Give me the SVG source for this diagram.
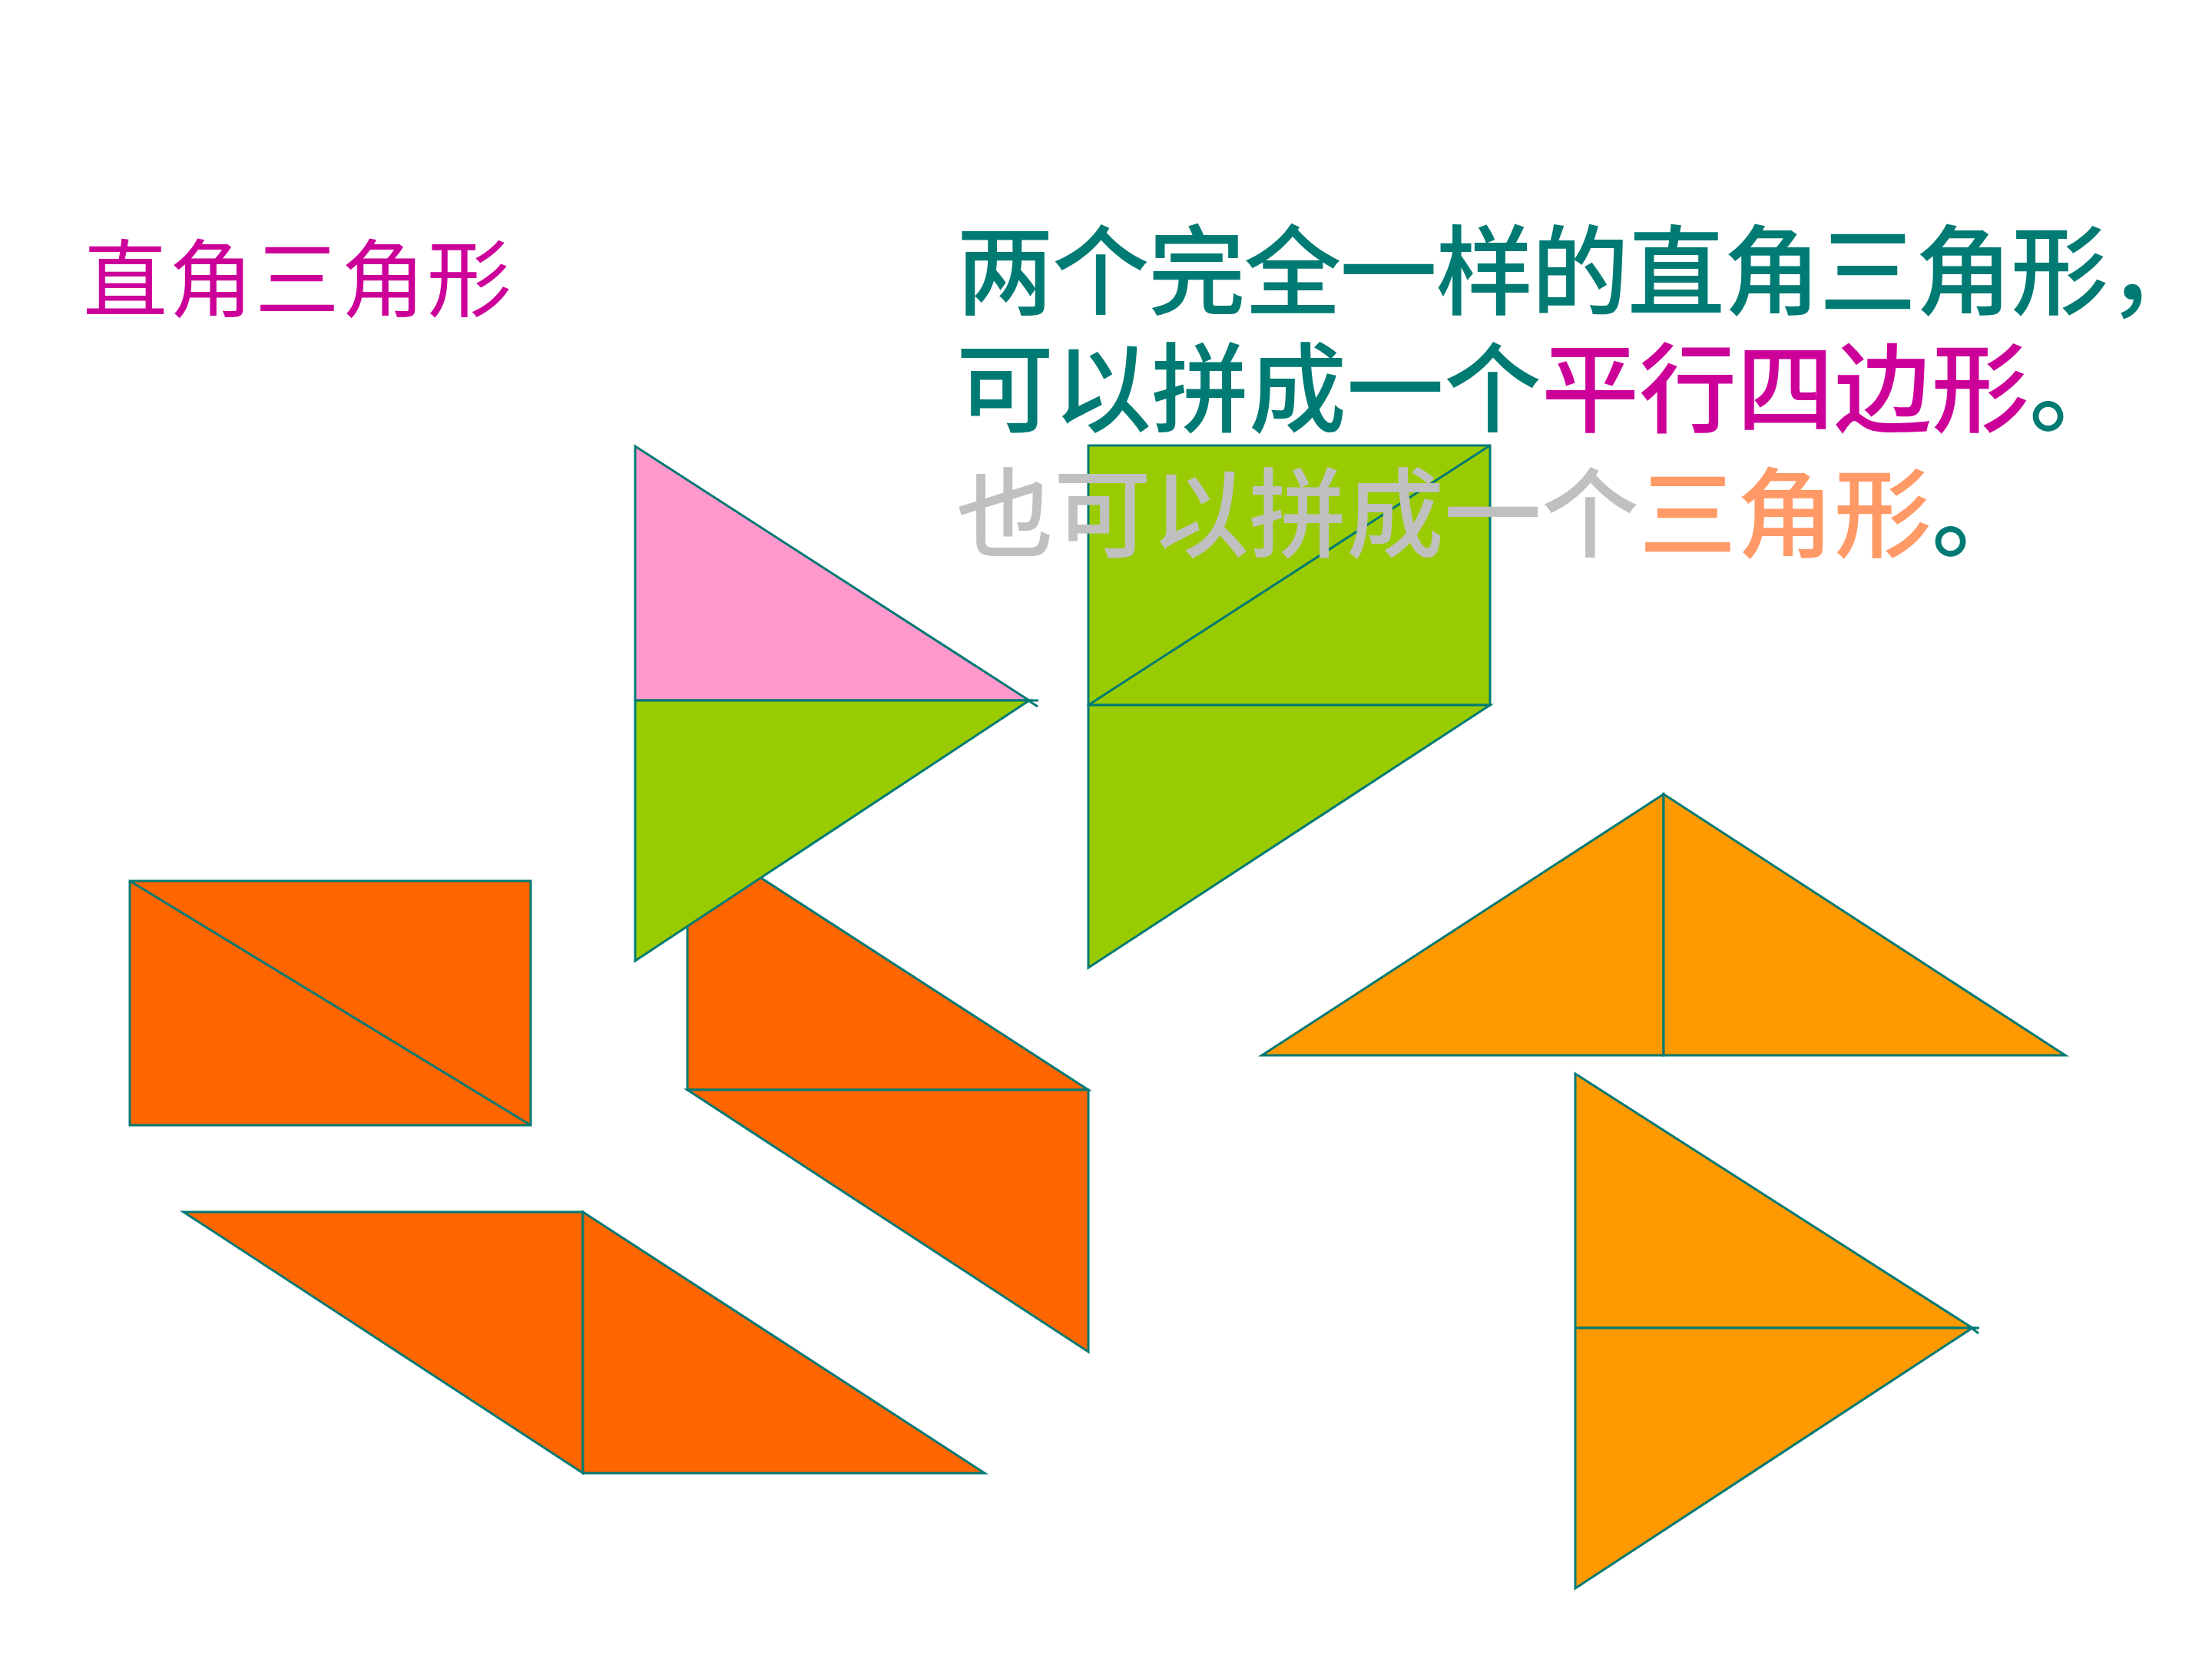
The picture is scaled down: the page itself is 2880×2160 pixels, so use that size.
<svg xmlns="http://www.w3.org/2000/svg" width="2880" height="2160" viewBox="0 0 2880 2160">
<style>
.s{stroke:#007A74;stroke-width:3;stroke-linejoin:miter}
.pk{fill:#FF99CC}
.gr{fill:#99CC00}
.or{fill:#FF6600}
.yo{fill:#FF9900}
.ln{fill:none;stroke:#007A74;stroke-width:3}
.t{font-family:"Noto Sans CJK SC","Noto Sans CJK JP",sans-serif;font-size:127px;font-weight:500}
.teal{fill:#007B73}
.mag{fill:#CC0099}
.gray{fill:#C0C0C0}
.peach{fill:#FF9966}
</style>
<rect width="2880" height="2160" fill="#ffffff"/>

<g id="shape-orange-mid">
  <polygon class="s or" points="895,1081 1417,1419 895,1419"/>
  <polygon class="s or" points="895,1419 1417,1419 1417,1760"/>
</g>

<g id="shape-pink-green">
  <polygon class="s pk" points="827,581 1340,912 827,912"/>
  <polygon class="s gr" points="827,912 1340,912 827,1251"/>
  <polyline class="ln" points="1336,910 1351,920"/>
  <line class="ln" x1="1340" y1="912" x2="1352" y2="912"/>
</g>

<g id="shape-green-para">
  <rect class="s gr" x="1417" y="580" width="523" height="338"/>
  <line class="ln" x1="1417" y1="918" x2="1940" y2="580"/>
  <polygon class="s gr" points="1417,918 1940,918 1417,1260"/>
</g>

<g id="shape-orange-rect">
  <rect class="s or" x="169" y="1147" width="522" height="318"/>
  <line class="ln" x1="169" y1="1147" x2="691" y2="1465"/>
</g>

<g id="shape-orange-para">
  <polygon class="s or" points="239,1578 759,1578 759,1918"/>
  <polygon class="s or" points="759,1578 759,1918 1282,1918"/>
</g>

<g id="shape-yellow-tri">
  <polygon class="s yo" points="1643,1374 2166,1034 2166,1374"/>
  <polygon class="s yo" points="2166,1034 2689,1374 2166,1374"/>
</g>

<g id="shape-yellow-arrow">
  <polygon class="s yo" points="2051,1398 2568,1729 2051,1729"/>
  <polygon class="s yo" points="2051,1729 2568,1729 2051,2068"/>
  <polyline class="ln" points="2563,1726 2576,1736"/>
  <line class="ln" x1="2568" y1="1729" x2="2577" y2="1729"/>
</g>

<g id="title">
  <text x="108" y="404" font-family="Noto Sans CJK SC, sans-serif" font-size="110" fill="#CC0099" letter-spacing="2">直角三角形</text>
</g>

<g id="caption">
  <text class="t teal" x="1245" y="400" textLength="1625" lengthAdjust="spacing">两个完全一样的直角三角形，</text>
  <text class="t" x="1245" y="553"><tspan class="teal">可以拼成一个</tspan><tspan class="mag">平行四边形</tspan><tspan class="teal">。</tspan></text>
  <text class="t" x="1245" y="716"><tspan class="gray">也可以拼成一个</tspan><tspan class="peach">三角形</tspan><tspan class="teal">。</tspan></text>
</g>
</svg>
